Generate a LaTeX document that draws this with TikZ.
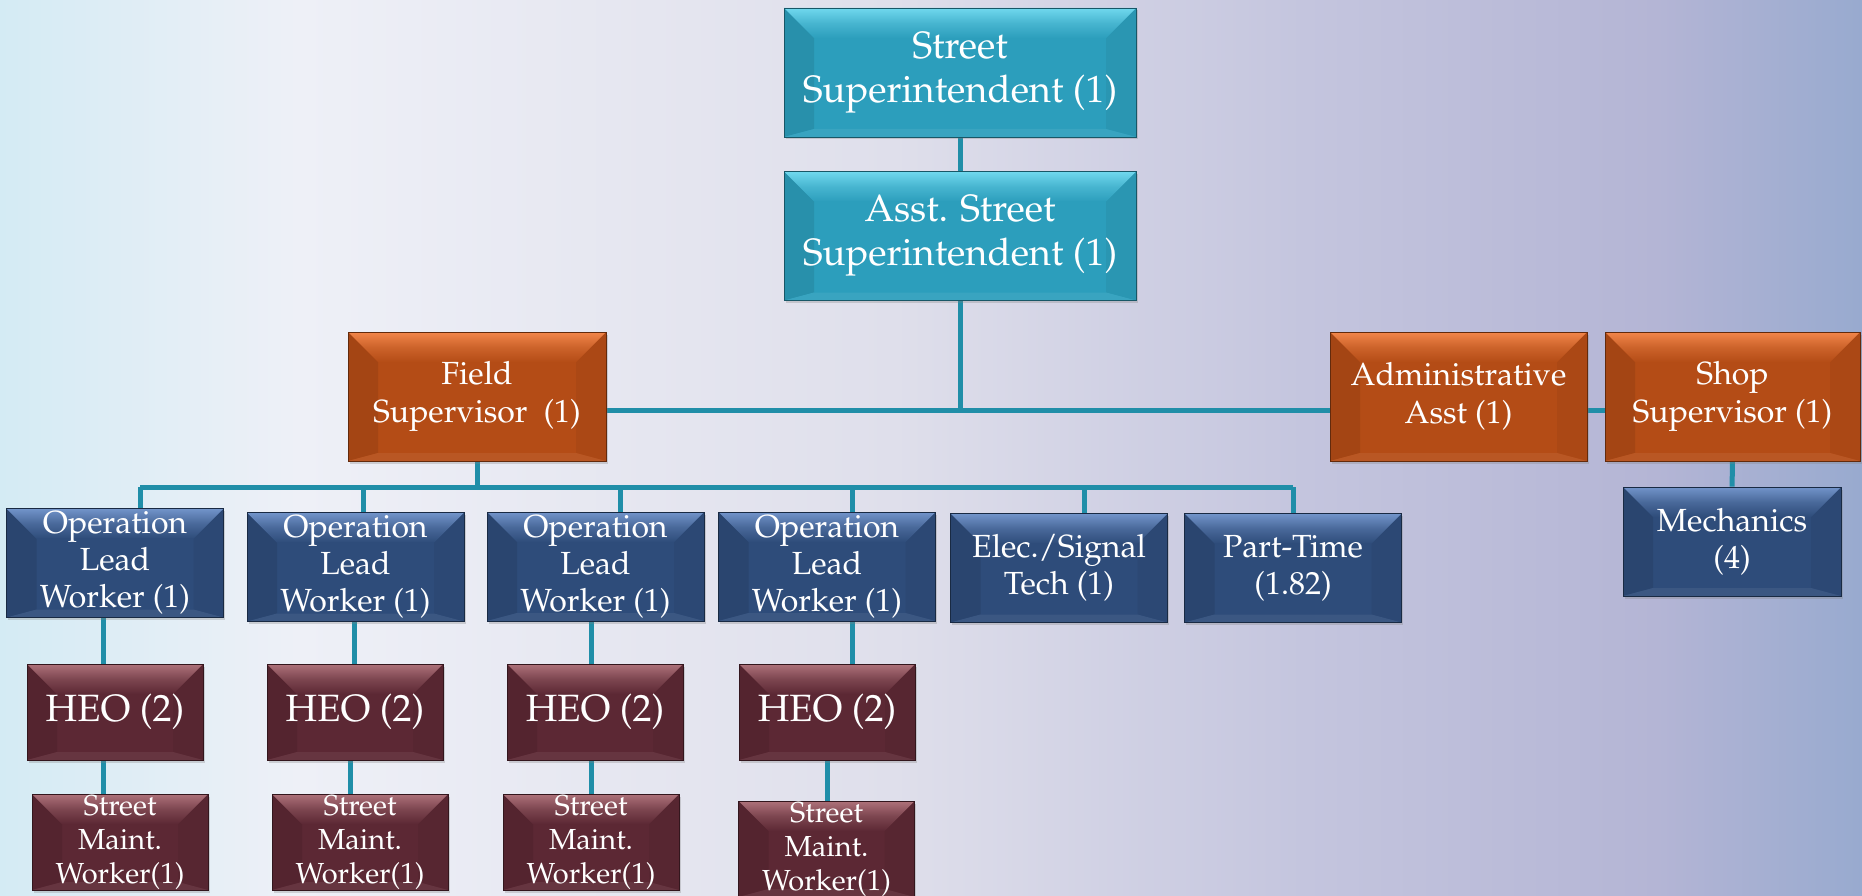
\documentclass[tikz,border=0pt]{standalone}
\usepackage[T1]{fontenc}
\renewcommand{\rmdefault}{ppl}
\usetikzlibrary{shadows,backgrounds}
\definecolor{tealmain}{RGB}{44,158,188}
\definecolor{teallight}{RGB}{112,216,238}
\definecolor{rustmain}{RGB}{180,76,22}
\definecolor{rustlight}{RGB}{242,134,74}
\definecolor{navymain}{RGB}{46,76,122}
\definecolor{navylight}{RGB}{114,148,202}
\definecolor{winemain}{RGB}{92,40,52}
\definecolor{winelight}{RGB}{174,114,122}
\definecolor{linkteal}{RGB}{32,142,168}
\definecolor{bgA}{RGB}{212,235,244}
\definecolor{bgB}{RGB}{238,240,247}
\definecolor{bgC}{RGB}{223,223,235}
\definecolor{bgD}{RGB}{196,197,222}
\definecolor{bgE}{RGB}{180,181,213}
\definecolor{bgF}{RGB}{152,170,207}
\pgfdeclarehorizontalshading{backdrop}{100bp}{color(0bp)=(bgA); color(25bp)=(bgA);
  color(33bp)=(bgB); color(49bp)=(bgC); color(60bp)=(bgD); color(69.5bp)=(bgE);
  color(75bp)=(bgF); color(100bp)=(bgF)}
\tikzset{
  link/.style={draw=linkteal,line width=5pt},
  bevel/.style 2 args={fill=#1,draw=#1!55!black,line width=0.6pt,text=white,
    align=center,inner sep=0pt,
    drop shadow={opacity=0.3,shadow xshift=1.5pt,shadow yshift=-2.5pt},
    path picture={
      \path (path picture bounding box.north west) coordinate (bnw)
        (path picture bounding box.north east) coordinate (bne)
        (path picture bounding box.south west) coordinate (bsw)
        (path picture bounding box.south east) coordinate (bse);
      \fill[#1!91!black] (bnw) -- ([shift={(30pt,-30pt)}]bnw) -- ([shift={(30pt,8pt)}]bsw) -- (bsw) -- cycle;
      \fill[#1!95!black] (bne) -- ([shift={(-30pt,-30pt)}]bne) -- ([shift={(-30pt,8pt)}]bse) -- (bse) -- cycle;
      \fill[#1!94!white] (bsw) -- ([shift={(30pt,8pt)}]bsw) -- ([shift={(-30pt,8pt)}]bse) -- (bse) -- cycle;
      \shade[top color=#2,bottom color=#1,middle color=#1!60!#2] (bnw) -- (bne) -- ([shift={(-30pt,-30pt)}]bne) -- ([shift={(30pt,-30pt)}]bnw) -- cycle;
    }},
  top box/.style={bevel={tealmain}{teallight},minimum width=352pt,minimum height=129pt,
    font=\fontsize{38}{44}\selectfont},
  rust box/.style={bevel={rustmain}{rustlight},minimum height=129pt,
    font=\fontsize{32}{38}\selectfont},
  lead box/.style={bevel={navymain}{navylight},minimum width=217pt,minimum height=109pt,
    font=\fontsize{32}{37}\selectfont},
  heo box/.style={bevel={winemain}{winelight},minimum width=176pt,minimum height=96pt,
    font=\fontsize{38}{44}\selectfont},
  maint box/.style={bevel={winemain}{winelight},minimum width=176pt,minimum height=96pt,
    font=\fontsize{29}{34}\selectfont},
}
\begin{document}
\begin{tikzpicture}[x=1pt,y=-1pt]
  \useasboundingbox (0,0) rectangle (1862,896);
  % top of the chart
  \node[top box] (super) at (960,72.5) {Street\\Superintendent (1)};
  \node[top box] (asst) at (960,236) {Asst. Street\\Superintendent (1)};
  \node[rust box,minimum width=258pt] (field) at (477,396.5) {Field\\Supervisor\ \ (1)};
  \node[rust box,minimum width=257pt] (admin) at (1458.5,396.5) {Administrative\\Asst (1)};
  \node[rust box,minimum width=255pt] (shop) at (1732.5,396.5) {Shop\\Supervisor (1)};
  % field crews
  \node[lead box] (op1) at (115,563) {Operation\\Lead\\Worker (1)};
  \node[lead box] (op2) at (355.5,567) {Operation\\Lead\\Worker (1)};
  \node[lead box] (op3) at (595.5,566.5) {Operation\\Lead\\Worker (1)};
  \node[lead box] (op4) at (827,566.5) {Operation\\Lead\\Worker (1)};
  \node[lead box] (elec) at (1059,568) {Elec./Signal\\Tech (1)};
  \node[lead box] (part) at (1293,568) {Part-Time\\(1.82)};
  \node[lead box,minimum width=218pt] (mech) at (1732,541.5) {Mechanics\\(4)};
  \foreach \i/\x in {1/115,2/355,3/595,4/827}
    \node[heo box] (heo\i) at (\x,712) {HEO (2)};
  \foreach \i/\x/\y in {1/120/842,2/360/842,3/591/842,4/826.5/849}
    \node[maint box] (sm\i) at (\x,\y) {Street\\Maint.\\Worker(1)};
  % backdrop and connectors
  \begin{scope}[on background layer]
    \shade[shading=backdrop] (0,0) rectangle (1862,896);
    \coordinate (hub) at (958,410);
    \coordinate (fbus) at (477,487);
    \draw[link] (super) -- (asst);
    \draw[link] (asst.south) -- (asst.south |- hub);
    \draw[link] (field.east |- hub) -- (admin.west |- hub);
    \draw[link] (admin.east |- hub) -- (shop.west |- hub);
    \draw[link] (shop) -- (mech);
    \draw[link] (field.south) -- (field.south |- fbus);
    \draw[link] ([xshift=25pt]op1.north |- fbus) -- (part.north |- fbus);
    \foreach \n/\dx in {op1/25,op2/8,op3/25,op4/25,elec/25,part/0}
      \draw[link] ([xshift=\dx pt]\n.north) -- ([xshift=\dx pt]\n.north |- fbus);
    \foreach \i/\dx in {1/-12,2/-1,3/-4,4/25}
      \draw[link] ([xshift=\dx pt]op\i.south) -- ([xshift=\dx pt]op\i.south |- heo\i.north);
    \foreach \i/\dx in {1/-12,2/-5,3/-4,4/0}
      \draw[link] ([xshift=\dx pt]heo\i.south) -- ([xshift=\dx pt]heo\i.south |- sm\i.north);
  \end{scope}
\end{tikzpicture}
\end{document}
